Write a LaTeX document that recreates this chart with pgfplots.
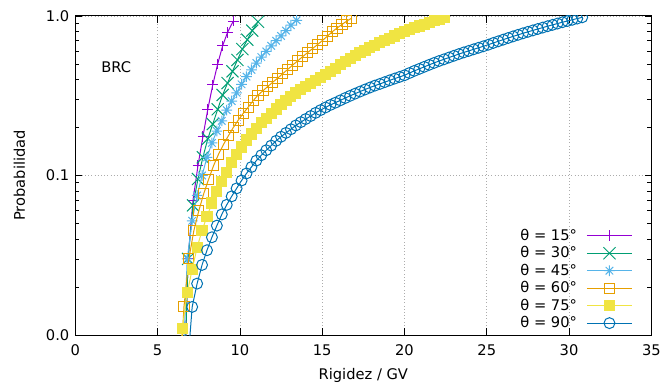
\documentclass[border=0pt]{standalone}
\usepackage{fontspec}
\setmainfont{DejaVu Sans}
\usepackage{pgfplots}
\pgfplotsset{compat=1.18}
\definecolor{c15}{HTML}{9400D3}
\definecolor{c30}{HTML}{009E73}
\definecolor{c45}{HTML}{56B4E9}
\definecolor{c60}{HTML}{E69F00}
\definecolor{c75}{HTML}{F0E442}
\definecolor{c90}{HTML}{0072B2}
\pgfdeclareplotmark{gpstar}{%
 \pgfpathmoveto{\pgfqpoint{-\pgfplotmarksize}{0pt}}\pgfpathlineto{\pgfqpoint{\pgfplotmarksize}{0pt}}%
 \pgfpathmoveto{\pgfqpoint{0pt}{-\pgfplotmarksize}}\pgfpathlineto{\pgfqpoint{0pt}{\pgfplotmarksize}}%
 \pgfpathmoveto{\pgfqpoint{-.7071\pgfplotmarksize}{-.7071\pgfplotmarksize}}\pgfpathlineto{\pgfqpoint{.7071\pgfplotmarksize}{.7071\pgfplotmarksize}}%
 \pgfpathmoveto{\pgfqpoint{-.7071\pgfplotmarksize}{.7071\pgfplotmarksize}}\pgfpathlineto{\pgfqpoint{.7071\pgfplotmarksize}{-.7071\pgfplotmarksize}}%
 \pgfusepathqstroke}
\begin{document}
\begin{tikzpicture}
\path[use as bounding box] (-56.5pt,-39.75pt) rectangle (438.5pt,251.25pt);
\begin{axis}[
  at={(0,0)}, anchor=south west, scale only axis,
  width=432pt, height=239.25pt,
  xmin=0, xmax=35, ymode=log, ymin=0.01, ymax=1,
  xtick={0,5,...,35},
  ytick={0.01,0.1,1}, yticklabels={0.0,0.1,1.0},
  minor ytick={0.02,0.03,0.04,0.05,0.06,0.07,0.08,0.09,0.2,0.3,0.4,0.5,0.6,0.7,0.8,0.9},
  tick align=inside, tick pos=both,
  major tick length=5pt, minor tick length=3pt,
  xmajorgrids, ymajorgrids,
  major grid style={dotted, gray!65, line width=0.55pt},
  axis line style={line width=0.75pt},
  every tick/.style={black, line width=0.6pt},
  /pgf/number format/assume math mode=true,
  tick label style={font=\fontsize{11}{13}\selectfont},
  xticklabel style={yshift=-4pt},
  yticklabel style={xshift=-1pt},
  xlabel={Rigidez / GV}, ylabel={Probabilidad},
  every axis y label/.style={at={(axis description cs:0,0.5)}, xshift=-42pt, rotate=90, anchor=center, font=\fontsize{11}{13}\selectfont},
  every axis x label/.style={at={(axis description cs:0.5,0)}, yshift=-30.5pt, anchor=center, font=\fontsize{11}{13}\selectfont},
  clip marker paths=true,
  legend cell align=right, legend plot pos=right,
  legend style={at={(rel axis cs:0.968,0.009)}, anchor=south east, draw=none, fill=none,
     font=\fontsize{11}{13}\selectfont, row sep=0pt, column sep=6.5pt, inner sep=0pt,
     nodes={inner sep=0.5pt, text height=9.4pt, text depth=2.7pt}},
  legend image code/.code={\draw[mark repeat=2,mark phase=2] plot coordinates {(0pt,0pt) (17pt,0pt) (34pt,0pt)};},
  every axis plot/.append style={line width=0.75pt},
]
\node[anchor=west, font=\fontsize{11}{13}\selectfont] at (axis cs:1.3,0.48) {BRC};

\addplot[c15, mark=+, mark size=4pt] coordinates {
(6.6,0.004)(6.85,0.03)(7.15,0.07)(7.45,0.115)(7.75,0.175)(8.05,0.26)(8.35,0.37)(8.65,0.50)(8.95,0.65)(9.25,0.79)(9.6,0.93)
};
\addlegendentry{θ = 15°}

\addplot[c30, mark=x, mark size=6.4pt] coordinates {
(6.6,0.004)(6.85,0.03)(7.15,0.065)(7.45,0.095)(7.75,0.13)(8.05,0.17)(8.35,0.21)(8.65,0.26)(8.95,0.32)(9.25,0.38)(9.55,0.45)(9.85,0.53)(10.15,0.62)(10.45,0.71)(10.75,0.81)(11.1,0.92)
};
\addlegendentry{θ = 30°}

\addplot[c45, mark=gpstar, mark size=4pt] coordinates {
(6.5,0.005)(6.8,0.03)(7.1,0.052)(7.4,0.075)(7.7,0.10)(8.0,0.13)(8.3,0.16)(8.6,0.19)(8.9,0.22)(9.2,0.257)(9.5,0.293)(9.8,0.33)(10.1,0.373)(10.4,0.417)(10.7,0.46)(11.0,0.507)(11.3,0.553)(11.6,0.60)(11.9,0.65)(12.2,0.70)(12.5,0.75)(12.8,0.81)(13.1,0.875)(13.45,0.94)
};
\addlegendentry{θ = 45°}

\addplot[c60, mark=square, mark size=3.8pt] coordinates {
(6.3,0.004)(6.6,0.015)(6.9,0.030)(7.2,0.045)(7.5,0.060)(7.8,0.0768)(8.1,0.0948)(8.4,0.1153)(8.7,0.1358)(9.0,0.1563)(9.3,0.1775)(9.6,0.200)(9.9,0.2225)(10.2,0.245)(10.5,0.268)(10.8,0.294)(11.1,0.319)(11.4,0.340)(11.7,0.362)(12.0,0.385)(12.3,0.408)(12.6,0.435)(12.9,0.462)(13.2,0.492)(13.5,0.522)(13.8,0.555)(14.1,0.588)(14.4,0.623)(14.7,0.660)(15.0,0.700)(15.3,0.745)(15.6,0.795)(15.9,0.840)(16.2,0.885)(16.5,0.930)(16.8,0.970)
};
\addlegendentry{θ = 60°}

\addplot[c75, mark=square*, mark size=3.8pt, mark options={fill=c75}] coordinates {
(6.2,0.004)(6.5,0.011)(6.8,0.0184)(7.1,0.0258)(7.4,0.0353)(7.7,0.0453)(8.0,0.0553)(8.3,0.0672)(8.6,0.0797)(8.9,0.0922)(9.2,0.1047)(9.5,0.120)(9.8,0.136)(10.1,0.151)(10.4,0.167)(10.7,0.182)(11.0,0.198)(11.3,0.214)(11.6,0.229)(11.9,0.245)(12.2,0.261)(12.5,0.278)(12.8,0.295)(13.1,0.312)(13.4,0.329)(13.7,0.345)(14.0,0.362)(14.3,0.379)(14.6,0.396)(14.9,0.412)(15.2,0.429)(15.5,0.448)(15.8,0.471)(16.1,0.494)(16.4,0.517)(16.7,0.540)(17.0,0.564)(17.3,0.587)(17.6,0.610)(17.9,0.634)(18.2,0.657)(18.5,0.680)(18.8,0.703)(19.1,0.726)(19.4,0.749)(19.7,0.772)(20.0,0.795)(20.3,0.818)(20.6,0.842)(20.9,0.865)(21.2,0.888)(21.5,0.911)(21.8,0.934)(22.1,0.957)(22.4,0.980)
};
\addlegendentry{θ = 75°}

\addplot[c90, mark=o, mark size=4.1pt, mark options={fill=white}] coordinates {
(6.8,0.006)(7.1,0.015)(7.4,0.021)(7.7,0.0275)(8.0,0.034)(8.3,0.041)(8.6,0.0485)(8.9,0.057)(9.2,0.0655)(9.5,0.074)(9.8,0.083)(10.1,0.093)(10.4,0.103)(10.7,0.113)(11.0,0.124)(11.3,0.134)(11.6,0.144)(11.9,0.154)(12.2,0.165)(12.5,0.175)(12.8,0.185)(13.1,0.195)(13.4,0.206)(13.7,0.216)(14.0,0.226)(14.3,0.236)(14.6,0.247)(14.9,0.257)(15.2,0.267)(15.5,0.277)(15.8,0.286)(16.1,0.296)(16.4,0.306)(16.7,0.316)(17.0,0.326)(17.3,0.336)(17.6,0.346)(17.9,0.356)(18.2,0.366)(18.5,0.375)(18.8,0.385)(19.1,0.395)(19.4,0.405)(19.7,0.415)(20.0,0.425)(20.3,0.439)(20.6,0.453)(20.9,0.466)(21.2,0.480)(21.5,0.494)(21.8,0.508)(22.1,0.522)(22.4,0.535)(22.7,0.549)(23.0,0.563)(23.3,0.577)(23.6,0.591)(23.9,0.604)(24.2,0.618)(24.5,0.632)(24.8,0.646)(25.1,0.661)(25.4,0.678)(25.7,0.694)(26.0,0.711)(26.3,0.728)(26.6,0.745)(26.9,0.762)(27.2,0.779)(27.5,0.796)(27.8,0.812)(28.1,0.829)(28.4,0.846)(28.7,0.863)(29.0,0.880)(29.3,0.897)(29.6,0.914)(29.9,0.930)(30.2,0.947)(30.5,0.964)(30.8,0.981)
};
\addlegendentry{θ = 90°}
\end{axis}
\end{tikzpicture}
\end{document}
